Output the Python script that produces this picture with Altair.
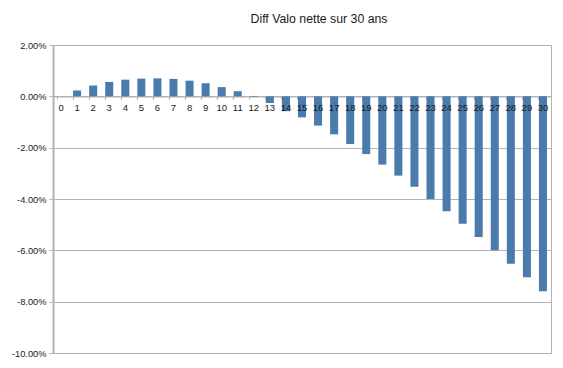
import altair as alt
import pandas as pd

years = list(range(31))
values = [0.0, 0.23, 0.42, 0.56, 0.65, 0.69, 0.70, 0.68, 0.61, 0.51, 0.36, 0.20,
          -0.02, -0.26, -0.58, -0.82, -1.14, -1.48, -1.86, -2.25, -2.66, -3.09,
          -3.52, -4.00, -4.48, -4.96, -5.48, -6.00, -6.52, -7.05, -7.59]
y_ticks = [0.02, 0.0, -0.02, -0.04, -0.06, -0.08, -0.10]

df = pd.DataFrame({"year": [str(y) for y in years], "value": [v / 100 for v in values]})
order = [str(y) for y in years]

W, H = 498, 308
zero_px = H * (0.02 / 0.12)
grey = "#b3b3b3"
font = "Liberation Sans"

xscale = alt.Scale(domain=order, paddingInner=0.5, paddingOuter=0.25)
yscale = alt.Scale(domain=[-0.10, 0.02], nice=False, zero=False)

base = alt.Chart(df)

bars = base.mark_bar(color="#4a7bab").encode(
    x=alt.X("year:O", scale=xscale, sort=order,
            axis=alt.Axis(offset=-(H - zero_px), bandPosition=0, labels=False, title=None,
                          domain=True, domainColor=grey, domainWidth=1.5,
                          ticks=True, tickColor=grey, tickSize=3, tickWidth=1, grid=False)),
    y=alt.Y("value:Q", scale=yscale,
            axis=alt.Axis(values=y_ticks, title=None, grid=True, gridColor=grey, gridWidth=1,
                          domainColor=grey, domainWidth=2, tickColor=grey, tickSize=4,
                          labelPadding=3, labelFont=font, labelFontSize=9.3, labelColor="#1a1a1a",
                          labelExpr="replace(format(datum.value, '.2%'), '\u2212', '-')")),
)

labels = base.mark_text(font=font, fontSize=9.5, color="#1a1a1a", baseline="alphabetic", dy=15).encode(
    x=alt.X("year:O", scale=xscale, sort=order),
    y=alt.datum(0),
    text="year:N",
)

chart = alt.layer(bars, labels).properties(
    width=W, height=H,
    title=alt.TitleParams("Diff Valo nette sur 30 ans", font=font, fontSize=12.3, fontWeight="normal",
                          color="#1a1a1a", dx=17, offset=16, anchor="middle"),
    padding={"left": 45, "top": 37, "right": 3, "bottom": 7},
    autosize=alt.AutoSizeParams(type="none"),
).configure_view(stroke=grey, strokeWidth=1)

chart.save("out.html", embed_options={"renderer": "svg", "actions": False})
